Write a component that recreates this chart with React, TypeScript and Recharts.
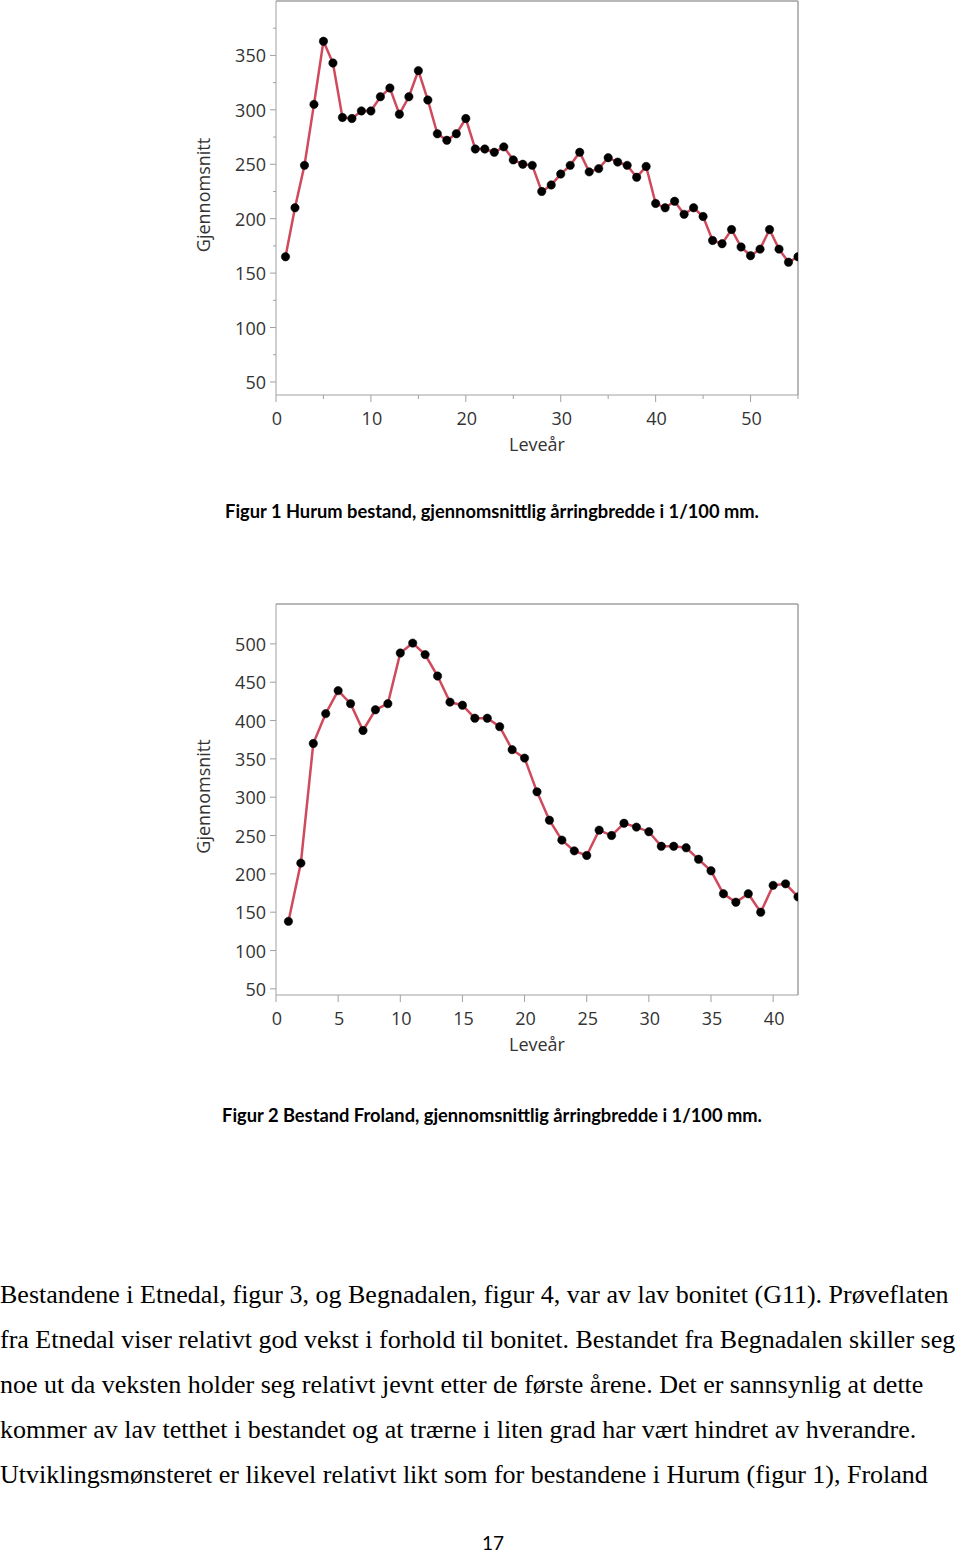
import { Line, LineChart, ReferenceLine, XAxis, YAxis } from 'recharts';

// Figur 1 – Hurum
const years1 = [
  1, 2, 3, 4, 5, 6, 7, 8, 9, 10, 11, 12, 13, 14, 15, 16, 17, 18, 19, 20, 21, 22, 23, 24, 25, 26, 27, 28,
  29, 30, 31, 32, 33, 34, 35, 36, 37, 38, 39, 40, 41, 42, 43, 44, 45, 46, 47, 48, 49, 50, 51, 52, 53, 54, 55,
];
const hurum = [
  165, 210, 249, 305, 363, 343, 293, 292, 299, 299, 312, 320, 296, 312, 336, 309, 278, 272, 278, 292, 264, 264,
  261, 266, 254, 250, 249, 225, 231, 241, 249, 261, 243, 246, 256, 252, 249, 238, 248, 214, 210, 216, 204, 210,
  202, 180, 177, 190, 174, 166, 172, 190, 172, 160, 165,
];
const xTicks1 = [0, 5, 10, 15, 20, 25, 30, 35, 40, 45, 50, 55];
const yTicks1 = [50, 75, 100, 125, 150, 175, 200, 225, 250, 275, 300, 325, 350, 375];

// Figur 2 – Froland
const years2 = [
  1, 2, 3, 4, 5, 6, 7, 8, 9, 10, 11, 12, 13, 14, 15, 16, 17, 18, 19, 20, 21, 22, 23, 24, 25, 26, 27, 28,
  29, 30, 31, 32, 33, 34, 35, 36, 37, 38, 39, 40, 41, 42,
];
const froland = [
  138, 214, 370, 409, 439, 422, 387, 414, 422, 488, 501, 486, 458, 424, 420, 403, 403, 392, 362, 351, 307, 270,
  244, 230, 224, 257, 250, 266, 261, 255, 236, 236, 234, 219, 204, 174, 163, 174, 150, 185, 187, 170,
];
const xTicks2 = [0, 5, 10, 15, 20, 25, 30, 35, 40];
const yTicks2 = [50, 100, 150, 200, 250, 300, 350, 400, 450, 500];

const caption1 = 'Figur 1 Hurum bestand, gjennomsnittlig årringbredde i 1/100 mm.';
const caption2 = 'Figur 2 Bestand Froland, gjennomsnittlig årringbredde i 1/100 mm.';
const bodyLines = [
  'Bestandene i Etnedal, figur 3, og Begnadalen, figur 4, var av lav bonitet (G11). Prøveflaten',
  'fra Etnedal viser relativt god vekst i forhold til bonitet. Bestandet fra Begnadalen skiller seg',
  'noe ut da veksten holder seg relativt jevnt etter de første årene. Det er sannsynlig at dette',
  'kommer av lav tetthet i bestandet og at trærne i liten grad har vært hindret av hverandre.',
  'Utviklingsmønsteret er likevel relativt likt som for bestandene i Hurum (figur 1), Froland',
];

const AXIS = '#a0a0a0';
const LINE = '#cf4a5c';
const TICK_FONT = '"Open Sans", sans-serif';

function makeYTick(major: number) {
  return (props: any) => {
    const { x, y, payload } = props;
    const ax = x + 10;
    const isMajor = payload.value % major === 0;
    return (
      <g>
        <line x1={ax} x2={ax - (isMajor ? 6 : 3)} y1={y} y2={y} stroke={AXIS} />
        {isMajor && (
          <text x={x} y={y} textAnchor="end" dominantBaseline="central" fill="#333" fontSize={18} fontFamily={TICK_FONT}>
            {payload.value}
          </text>
        )}
      </g>
    );
  };
}

function makeXTick(major: number) {
  return (props: any) => {
    const { x, y, payload } = props;
    const ay = y - 15;
    const isMajor = payload.value % major === 0;
    return (
      <g>
        <line x1={x} x2={x} y1={ay} y2={ay + (isMajor ? 7 : 4)} stroke={AXIS} />
        {isMajor && (
          <text x={x + 1} y={ay + 23} textAnchor="middle" dominantBaseline="central" fill="#333" fontSize={18} fontFamily={TICK_FONT}>
            {payload.value}
          </text>
        )}
      </g>
    );
  };
}

const yLabel = (props: any) => {
  const vb = props.viewBox;
  const cx = vb.x + 23;
  const cy = vb.y + vb.height / 2 - 3;
  return (
    <text x={cx} y={cy} transform={`rotate(-90, ${cx}, ${cy})`} textAnchor="middle" dominantBaseline="central" fill="#333" fontSize={18} fontFamily={TICK_FONT}>
      Gjennomsnitt
    </text>
  );
};

const xLabel = (props: any) => {
  const vb = props.viewBox;
  return (
    <text x={vb.x + vb.width / 2} y={vb.y + 49} textAnchor="middle" dominantBaseline="central" fill="#333" fontSize={18} fontFamily={TICK_FONT}>
      Leveår
    </text>
  );
};

function RingChart({
  years,
  values,
  xTicks,
  yTicks,
  xDomain,
  yDomain,
  xMajor,
  yMajor,
  top,
  bottom,
}: {
  years: number[];
  values: number[];
  xTicks: number[];
  yTicks: number[];
  xDomain: [number, number];
  yDomain: [number, number];
  xMajor: number;
  yMajor: number;
  top: number;
  bottom: number;
}) {
  const data = years.map((yr, i) => ({ yr, v: values[i] }));
  return (
    <div style={{ position: 'absolute', left: 180, top: 0, width: 640 }}>
      <LineChart width={640} height={bottom + 75} data={data} margin={{ top, right: 22, bottom: 0, left: 0 }}>
        <XAxis
          type="number"
          dataKey="yr"
          domain={xDomain}
          ticks={xTicks}
          interval={0}
          allowDataOverflow
          height={75}
          tickSize={8}
          tickMargin={7}
          tickLine={false}
          tick={makeXTick(xMajor)}
          stroke={AXIS}
          label={{ content: xLabel }}
        />
        <YAxis
          type="number"
          domain={yDomain}
          ticks={yTicks}
          interval={0}
          allowDataOverflow
          width={96}
          tickSize={6}
          tickMargin={4}
          tickLine={false}
          tick={makeYTick(yMajor)}
          stroke={AXIS}
          label={{ content: yLabel }}
        />
        <ReferenceLine y={yDomain[1]} stroke={AXIS} strokeWidth={1.5} ifOverflow="extendDomain" />
        <ReferenceLine x={xDomain[1]} stroke={AXIS} strokeWidth={1.5} ifOverflow="extendDomain" />
        <Line
          type="linear"
          dataKey="v"
          stroke={LINE}
          strokeWidth={2.5}
          dot={{ r: 4.2, fill: '#000', stroke: '#000', strokeWidth: 0.5 }}
          isAnimationActive={false}
        />
      </LineChart>
    </div>
  );
}

const captionStyle: React.CSSProperties = {
  position: 'absolute',
  left: 0,
  width: 984,
  textAlign: 'center',
  fontFamily: 'Lato, sans-serif',
  fontWeight: 700,
  fontSize: 18.3,
  lineHeight: '22px',
  color: '#000',
  whiteSpace: 'nowrap',
};

export default function App() {
  return (
    <div style={{ position: 'absolute', left: 0, top: 0, width: 960, height: 1553, background: '#fff', overflow: 'hidden' }}>
      <div style={{ position: 'absolute', left: 0, top: 0, width: 960, height: 480 }}>
        <RingChart
          years={years1}
          values={hurum}
          xTicks={xTicks1}
          yTicks={yTicks1}
          xDomain={[0, 55]}
          yDomain={[38, 400]}
          xMajor={10}
          yMajor={50}
          top={1}
          bottom={395}
        />
      </div>
      <div style={{ ...captionStyle, top: 500 }}>{caption1}</div>

      <div style={{ position: 'absolute', left: 0, top: 590, width: 960, height: 490 }}>
        <RingChart
          years={years2}
          values={froland}
          xTicks={xTicks2}
          yTicks={yTicks2}
          xDomain={[0, 42]}
          yDomain={[42, 552]}
          xMajor={5}
          yMajor={50}
          top={14}
          bottom={405}
        />
      </div>
      <div style={{ ...captionStyle, top: 1104 }}>{caption2}</div>

      {bodyLines.map((line, i) => (
        <div
          key={i}
          style={{
            position: 'absolute',
            left: 0,
            top: 1272 + i * 45,
            fontFamily: '"Liberation Serif", serif',
            fontSize: 26,
            lineHeight: '45px',
            whiteSpace: 'nowrap',
            color: '#000',
          }}
        >
          {line}
        </div>
      ))}
      <div
        style={{
          position: 'absolute',
          left: 0,
          width: 986,
          top: 1533,
          textAlign: 'center',
          fontFamily: 'Lato, sans-serif',
          fontSize: 19,
          lineHeight: '20px',
          color: '#000',
        }}
      >
        17
      </div>
    </div>
  );
}
